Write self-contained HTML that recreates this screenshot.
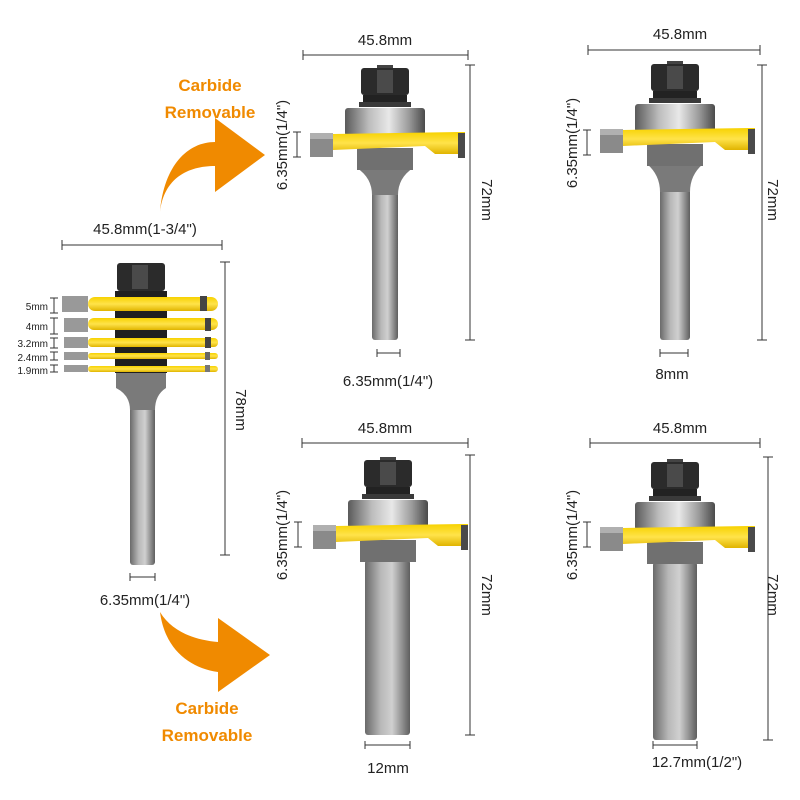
<!DOCTYPE html>
<html><head><meta charset="utf-8"><style>
html,body{margin:0;padding:0;background:#fff}
svg{display:block}
text{font-family:"Liberation Sans",sans-serif;fill:#222}
</style></head><body>
<svg width="800" height="800" viewBox="0 0 800 800" xmlns="http://www.w3.org/2000/svg">
<defs>
<linearGradient id="metal" x1="0" x2="1" y1="0" y2="0">
<stop offset="0" stop-color="#5a5a5a"/><stop offset="0.3" stop-color="#bdbdbd"/><stop offset="0.55" stop-color="#e8e8e8"/><stop offset="0.8" stop-color="#9a9a9a"/><stop offset="1" stop-color="#4a4a4a"/>
</linearGradient>
<linearGradient id="shank" x1="0" x2="1" y1="0" y2="0">
<stop offset="0" stop-color="#6a6a6a"/><stop offset="0.35" stop-color="#b8b8b8"/><stop offset="0.6" stop-color="#d0d0d0"/><stop offset="1" stop-color="#5e5e5e"/>
</linearGradient>
<linearGradient id="yel" x1="0" x2="0" y1="0" y2="1">
<stop offset="0" stop-color="#f7d200"/><stop offset="0.5" stop-color="#ffe34a"/><stop offset="1" stop-color="#e0b400"/>
</linearGradient>
<g id="head">
<rect x="-8" y="-3" width="16" height="5" fill="#444"/>
<rect x="-24" y="0" width="48" height="27" rx="3" fill="#2b2b2b"/>
<rect x="-8" y="2" width="16" height="23" fill="#4a4a4a"/>
<rect x="-22" y="27" width="44" height="12" fill="#222"/>
<rect x="-26" y="34" width="52" height="5" fill="#3a3a3a"/>
<rect x="-40" y="40" width="80" height="28" rx="3" fill="url(#metal)"/>
<rect x="-28" y="80" width="56" height="22" fill="#707070"/>
<path d="M-75,66 L-52,66 L-52,66 L75,64 L80,64 L80,86 L50,86 L40,78 L-52,82 Z" fill="url(#yel)"/>
<rect x="-75" y="65" width="23" height="24" fill="#8a8a8a"/>
<rect x="-75" y="65" width="23" height="6" fill="#b0b0b0"/>
<rect x="73" y="65" width="7" height="25" fill="#4a4a4a"/>
</g>
</defs>

<!-- arrows -->
<path d="M160,212 C164,178 188,166 215,166 L215,192 L265,155 L215,118 L215,142 C188,142 164,165 160,212 Z" fill="#f08a00"/>
<path d="M160,612 C165,650 190,668 218,672 L218,692 L270,655 L218,618 L218,642 C195,640 172,632 160,612 Z" fill="#f08a00"/>
<g font-weight="bold" font-size="17" text-anchor="middle">
<text x="210" y="91" style="fill:#f08a00">Carbide</text>
<text x="210" y="118" style="fill:#f08a00">Removable</text>
<text x="207" y="714" style="fill:#f08a00">Carbide</text>
<text x="207" y="741" style="fill:#f08a00">Removable</text>
</g>

<!-- dims style -->
<g stroke="#333" stroke-width="1" fill="none">
<!-- TM -->
<path d="M303,55 H468 M303,50 V60 M468,50 V60"/>
<path d="M470,65 V340 M465,65 H475 M465,340 H475"/>
<path d="M297,132 V157 M293,132 H301 M293,157 H301"/>
<path d="M377,353 H400 M377,349 V357 M400,349 V357"/>
<!-- TR -->
<path d="M588,50 H760 M588,45 V55 M760,45 V55"/>
<path d="M762,65 V340 M757,65 H767 M757,340 H767"/>
<path d="M587,130 V155 M583,130 H591 M583,155 H591"/>
<path d="M660,353 H688 M660,349 V357 M688,349 V357"/>
<!-- BM -->
<path d="M302,443 H468 M302,438 V448 M468,438 V448"/>
<path d="M470,455 V735 M465,455 H475 M465,735 H475"/>
<path d="M298,522 V547 M294,522 H302 M294,547 H302"/>
<path d="M365,745 H410 M365,741 V749 M410,741 V749"/>
<!-- BR -->
<path d="M590,443 H760 M590,438 V448 M760,438 V448"/>
<path d="M768,457 V740 M763,457 H773 M763,740 H773"/>
<path d="M587,522 V547 M583,522 H591 M583,547 H591"/>
<path d="M653,745 H697 M653,741 V749 M697,741 V749"/>
<!-- left -->
<path d="M62,245 H222 M62,240 V250 M222,240 V250"/>
<path d="M225,262 V555 M220,262 H230 M220,555 H230"/>
<path d="M130,577 H155 M130,573 V581 M155,573 V581"/>
<path d="M54,298 V313 M50,298 H58 M50,313 H58 M54,318 V334 M50,318 H58 M50,334 H58 M54,338 V348 M50,338 H58 M50,348 H58 M54,352 V360 M50,352 H58 M50,360 H58 M54,365 V372 M50,365 H58 M50,372 H58"/>
</g>

<!-- bits -->
<rect x="372" y="168" width="26" height="172" rx="3" fill="url(#shank)"/>
<path d="M357,168 H413 Q398,178 398,195 H372 Q372,178 357,168Z" fill="#7a7a7a"/>
<use href="#head" transform="translate(385,68)"/>

<rect x="660" y="166" width="30" height="174" rx="3" fill="url(#shank)"/>
<path d="M647,164 H703 Q690,175 690,192 H660 Q660,175 647,164Z" fill="#7a7a7a"/>
<use href="#head" transform="translate(675,64)"/>

<rect x="365" y="560" width="45" height="175" rx="3" fill="url(#shank)"/>
<use href="#head" transform="translate(388,460)"/>

<rect x="653" y="562" width="44" height="178" rx="3" fill="url(#shank)"/>
<use href="#head" transform="translate(675,462)"/>

<!-- left stack -->
<rect x="130" y="385" width="25" height="180" rx="3" fill="url(#shank)"/>
<path d="M116,372 H166 V388 Q155,395 155,410 H130 Q130,395 116,388Z" fill="#7a7a7a"/>
<rect x="117" y="263" width="48" height="28" rx="3" fill="#2b2b2b"/>
<rect x="132" y="265" width="16" height="24" fill="#4a4a4a"/>
<rect x="115" y="291" width="52" height="82" fill="#1f1f1f"/>
<g>
<rect x="88" y="297" width="130" height="14" rx="7" fill="url(#yel)"/><rect x="62" y="296" width="26" height="16" fill="#999"/><rect x="200" y="296" width="7" height="15" fill="#444"/>
<rect x="88" y="318" width="130" height="12" rx="6" fill="url(#yel)"/><rect x="64" y="318" width="24" height="14" fill="#999"/><rect x="205" y="318" width="6" height="13" fill="#444"/>
<rect x="88" y="338" width="130" height="9" rx="4" fill="url(#yel)"/><rect x="64" y="337" width="24" height="11" fill="#999"/><rect x="205" y="337" width="6" height="11" fill="#444"/>
<rect x="88" y="353" width="130" height="6" rx="3" fill="url(#yel)"/><rect x="64" y="352" width="24" height="8" fill="#999"/><rect x="205" y="352" width="5" height="8" fill="#666"/>
<rect x="88" y="366" width="130" height="6" rx="3" fill="url(#yel)"/><rect x="64" y="365" width="24" height="7" fill="#999"/><rect x="205" y="365" width="5" height="7" fill="#777"/>
</g>

<!-- labels -->
<g font-size="15" text-anchor="middle">
<text x="385" y="45">45.8mm</text>
<text x="680" y="39">45.8mm</text>
<text x="385" y="433">45.8mm</text>
<text x="680" y="433">45.8mm</text>
<text x="145" y="234">45.8mm(1-3/4")</text>
<text x="388" y="386">6.35mm(1/4")</text>
<text x="672" y="379">8mm</text>
<text x="388" y="773">12mm</text>
<text x="697" y="767">12.7mm(1/2")</text>
<text x="145" y="605">6.35mm(1/4")</text>
<text transform="translate(482,200) rotate(90)">72mm</text>
<text transform="translate(768,200) rotate(90)">72mm</text>
<text transform="translate(482,595) rotate(90)">72mm</text>
<text transform="translate(768,595) rotate(90)">72mm</text>
<text transform="translate(236,410) rotate(90)">78mm</text>
<text transform="translate(287,145) rotate(-90)">6.35mm(1/4")</text>
<text transform="translate(577,143) rotate(-90)">6.35mm(1/4")</text>
<text transform="translate(287,535) rotate(-90)">6.35mm(1/4")</text>
<text transform="translate(577,535) rotate(-90)">6.35mm(1/4")</text>
</g>
<g font-size="10" text-anchor="end">
<text x="48" y="310">5mm</text>
<text x="48" y="330">4mm</text>
<text x="48" y="347">3.2mm</text>
<text x="48" y="361">2.4mm</text>
<text x="48" y="374">1.9mm</text>
</g>
</svg>
</body></html>
